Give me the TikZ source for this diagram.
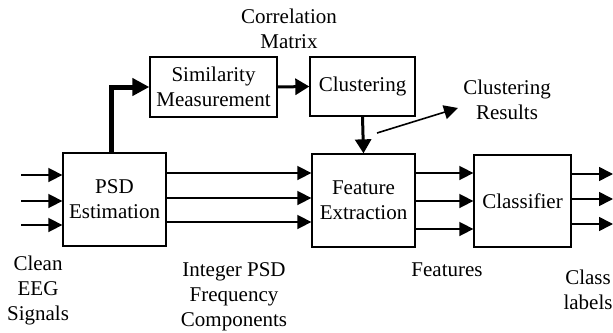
\documentclass[tikz,border=0pt]{standalone}
\usepackage{fontspec}
\setmainfont{Liberation Serif}
\newfontfamily\lserif{Liberation Serif}
\usetikzlibrary{arrows.meta}
\begin{document}
\begin{tikzpicture}[x=1pt,y=-1pt,
  blk/.style={draw,line width=1.3pt,minimum width=#1,inner sep=0pt,align=center,font=\lserif\fontsize{21}{25}\selectfont},
  txt/.style={inner sep=0pt,align=center,font=\lserif\fontsize{21}{25}\selectfont},
  arrthin/.style={line width=1.6pt,-{Triangle[length=14pt,width=14pt]}},
  arrthick/.style={line width=3pt,-{Triangle[length=14pt,width=16pt]}},
  arrthicker/.style={line width=5pt,-{Triangle[length=17pt,width=17pt]}}]
\useasboundingbox (0,0) rectangle (613,332);
% blocks
\node[blk=103pt,minimum height=93pt] (psd) at (114.5,199.5) {PSD\\Estimation};
\node[blk=127pt,minimum height=60pt] (sim) at (213.5,87) {Similarity\\Measurement};
\node[blk=105pt,minimum height=59pt] (clu) at (362.5,86.5) {Clustering};
\node[blk=103pt,minimum height=93pt] (fe) at (363.5,200.5) {Feature\\Extraction};
\node[blk=97pt,minimum height=92pt] (cls) at (522.5,201) {Classifier};
% labels
\node[txt] (corr) at (289,29) {Correlation\\Matrix};
\node[txt] (cres) at (507,100) {Clustering\\Results};
\node[txt] (clean) at (38,290) {Clean\\EEG\\Signals};
\node[txt] (ipsd) at (234,297) {Integer PSD\\Frequency\\Components};
\node[txt] (feat) at (447,270) {Features};
\node[txt] (clab) at (588,290) {Class\\labels};
% coordinates
\coordinate (i1) at (21,175);
\coordinate (i2) at (21,201);
\coordinate (i3) at (21,225);
\coordinate (o1) at (613,174);
\coordinate (o2) at (613,199);
\coordinate (o3) at (613,224);
\coordinate (cr0) at (377,133);
\coordinate (cr1) at (458,108);
% inputs
\draw[arrthin] (i1) -- (i1 -| psd.west);
\draw[arrthin] (i2) -- (i2 -| psd.west);
\draw[arrthin] (i3) -- (i3 -| psd.west);
% psd -> fe
\draw[arrthin] (psd.east |- 0,173) -- (fe.west |- 0,173);
\draw[arrthin] (psd.east |- 0,198) -- (fe.west |- 0,198);
\draw[arrthin] (psd.east |- 0,222) -- (fe.west |- 0,222);
% fe -> cls
\draw[arrthin] (fe.east |- 0,173) -- (cls.west |- 0,173);
\draw[arrthin] (fe.east |- 0,201) -- (cls.west |- 0,201);
\draw[arrthin] (fe.east |- 0,229) -- (cls.west |- 0,229);
% outputs
\draw[arrthin] (cls.east |- o1) -- (o1);
\draw[arrthin] (cls.east |- o2) -- (o2);
\draw[arrthin] (cls.east |- o3) -- (o3);
% top path
\draw[arrthicker] (psd.north -| 111,0) |- (sim.west);
\draw[arrthick] (sim.east) -- (clu.west);
\draw[arrthick] (clu.south) -- (fe.north);
\draw[arrthin] (cr0) -- (cr1);
\end{tikzpicture}
\end{document}
